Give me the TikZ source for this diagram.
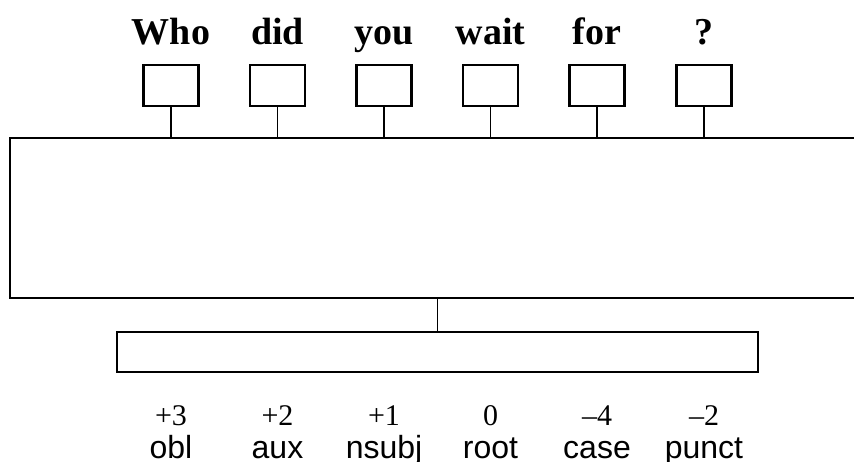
\documentclass[tikz,border=0pt]{standalone}
\usepackage{fontspec}
\setmainfont{Liberation Serif}
\newfontfamily\labelfont{Liberation Sans}
\begin{document}
\begin{tikzpicture}[x=1pt,y=-1pt,
  tokbox/.style={draw,line width=2.2pt,minimum width=55pt,minimum height=41pt,inner sep=0pt},
  bigbox/.style={draw,line width=2.2pt,inner sep=0pt},
  conn/.style={line width=1.1pt},
  word/.style={anchor=base,inner sep=0pt,font=\fontsize{38}{42}\selectfont\bfseries},
  num/.style={anchor=base,inner sep=0pt,font=\fontsize{30}{34}\selectfont},
  rel/.style={anchor=base,inner sep=0pt,font=\fontsize{32}{36}\selectfont\labelfont}]
\useasboundingbox (0,0) rectangle (854,462);
\clip (0,0) rectangle (854,462);
\node[bigbox,minimum width=860pt,minimum height=160pt] (enc) at (440,218) {};
\node[bigbox,minimum width=641pt,minimum height=40pt] (dec) at (437.5,352) {};
\foreach \i/\x/\w/\n/\r in {1/171/Who/+3/obl,2/277.5/did/+2/aux,3/384/you/+1/nsubj,4/490.5/wait/0/root,5/597/for/–4/case,6/704/?/–2/punct}{
  \node[tokbox] (b\i) at (\x,85.5) {};
  \node[word] (w\i) at (\x,45) {\w};
  \node[num] (n\i) at (\x,425) {\n};
  \node[rel] (r\i) at (\x,458) {\r};
  \draw[conn] (b\i.south) -- (b\i.south |- enc.north);
}
\draw[conn] (dec.north |- enc.south) -- (dec.north);
\end{tikzpicture}
\end{document}
